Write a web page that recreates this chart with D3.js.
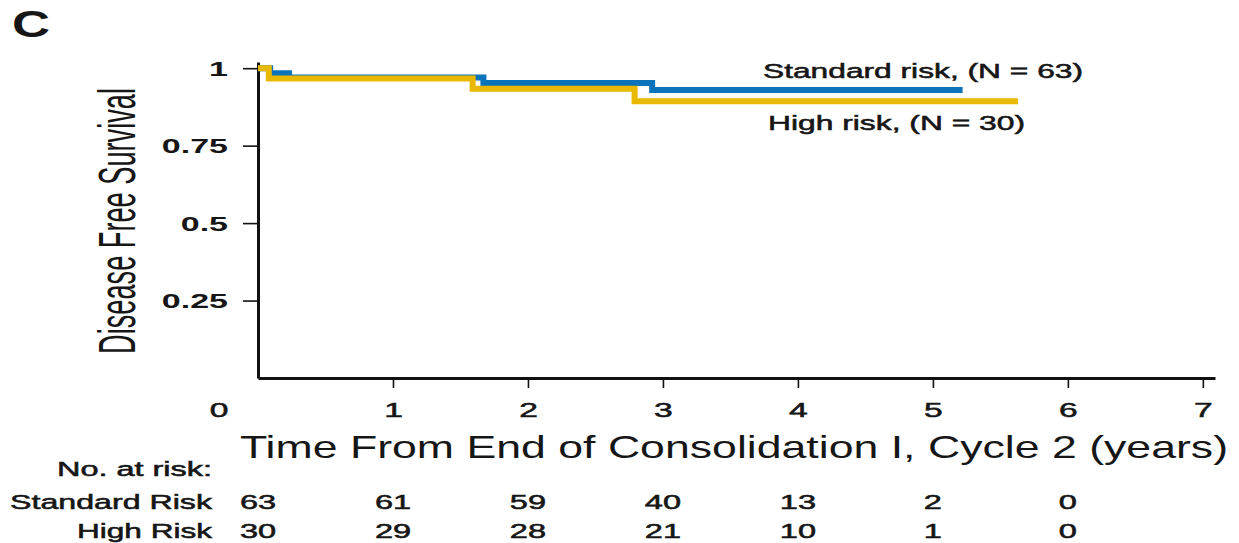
<!DOCTYPE html>
<html>
<head>
<meta charset="utf-8">
<script src="https://cdn.jsdelivr.net/npm/d3@7"></script>
<style>
  html, body { margin: 0; padding: 0; background: #fff; }
  svg { display: block; }
  text { font-family: "Liberation Sans", Arial, Helvetica, sans-serif; fill: #161616; }
  .medium { stroke: #161616; stroke-width: 0.55px; }
</style>
</head>
<body>
<svg id="chart" width="1239" height="543"></svg>
<script>
// Kaplan-Meier step data (time in years, survival probability)
const standardTimes = [0, 0.09, 0.23, 1.67, 2.92, 5.22];
const standardSurv  = [1, 0.984, 0.970, 0.952, 0.930, 0.930];
const highTimes     = [0, 0.08, 1.59, 2.79, 5.63];
const highSurv      = [1, 0.967, 0.934, 0.893, 0.893];

// Axis ticks
const xTicks = [1, 2, 3, 4, 5, 6, 7];
const yTicks = [0.25, 0.5, 0.75, 1];
const yTickLabels = ["0.25", "0.5", "0.75", "1"];

// Numbers at risk
const riskTimes      = [0, 1, 2, 3, 4, 5, 6];
const standardAtRisk = [63, 61, 59, 40, 13, 2, 0];
const highAtRisk     = [30, 29, 28, 21, 10, 1, 0];

const colors = { standard: "#0b73ba", high: "#e9b901" };

const svg = d3.select("#chart");

const x = d3.scaleLinear().domain([0, 7.09]).range([258, 1215]);
const y = d3.scaleLinear().domain([0, 1.02]).range([378, 62]);

// Panel letter
svg.append("text")
  .attr("x", 12).attr("y", 37)
  .attr("font-size", 36).attr("font-weight", "bold")
  .attr("textLength", 38).attr("lengthAdjust", "spacingAndGlyphs")
  .text("C");

// Y axis
const yAxis = svg.append("g")
  .attr("transform", `translate(${x(0)},0)`)
  .call(d3.axisLeft(y).tickValues(yTicks)
    .tickFormat((d, i) => yTickLabels[i])
    .tickSize(15).tickSizeOuter(0));
yAxis.select(".domain").attr("stroke", "#111").attr("stroke-width", 3);
yAxis.selectAll(".tick line").attr("stroke", "#111").attr("stroke-width", 1.6);
const ySx = 1.7;
yAxis.selectAll(".tick text")
  .attr("font-size", 20).attr("font-weight", "bold")
  .attr("font-family", "Liberation Sans, Arial, sans-serif")
  .attr("fill", "#161616")
  .attr("x", 0).attr("dy", 0).attr("y", 0)
  .attr("text-anchor", "end")
  .attr("transform", `translate(-30,7) scale(${ySx},1)`);

// X axis
const xAxis = svg.append("g")
  .attr("transform", `translate(0,${y(0)})`)
  .call(d3.axisBottom(x).tickValues(xTicks).tickFormat(d3.format("d"))
    .tickSize(10).tickSizeOuter(0));
xAxis.select(".domain").attr("stroke", "#111").attr("stroke-width", 3);
xAxis.selectAll(".tick line").attr("stroke", "#111").attr("stroke-width", 1.6);
const xSx = 1.6;
xAxis.selectAll(".tick text")
  .attr("class", "medium")
  .attr("font-size", 21)
  .attr("font-family", "Liberation Sans, Arial, sans-serif")
  .attr("fill", "#161616")
  .attr("y", 0).attr("dy", 0)
  .attr("transform", `translate(0,39) scale(${xSx},1)`);

// Shared origin label
svg.append("text")
  .attr("class", "medium")
  .attr("text-anchor", "middle")
  .attr("font-size", 21)
  .attr("transform", `translate(219,417) scale(${xSx},1)`)
  .text("0");

// Axis titles
svg.append("text")
  .attr("x", 240).attr("y", 458)
  .attr("font-size", 32)
  .attr("textLength", 988).attr("lengthAdjust", "spacingAndGlyphs")
  .text("Time From End of Consolidation I, Cycle 2 (years)");

// Condensed vertical title: squeeze the natural width to the axis span
const yTitle = svg.append("text")
  .attr("text-anchor", "middle")
  .attr("font-family", "Liberation Sans Narrow, DejaVu Sans Condensed, Liberation Sans, sans-serif")
  .attr("font-size", 51)
  .text("Disease Free Survival");
const yTitleWidth = yTitle.node().getComputedTextLength();
yTitle.attr("transform", `translate(135,221) rotate(-90) scale(${266 / yTitleWidth},1)`);

// Survival curves
const line = d3.line()
  .x(d => x(d[0]))
  .y(d => y(d[1]))
  .curve(d3.curveStepAfter);

const series = [
  { key: "standard", times: standardTimes, surv: standardSurv },
  { key: "high", times: highTimes, surv: highSurv }
];

svg.append("g").selectAll("path")
  .data(series)
  .join("path")
  .attr("d", s => line(s.times.map((t, i) => [t, s.surv[i]])))
  .attr("fill", "none")
  .attr("stroke", s => colors[s.key])
  .attr("stroke-width", 6)
  .attr("stroke-linejoin", "miter")
  .attr("stroke-linecap", "butt");

// Curve labels
svg.append("text")
  .attr("class", "medium")
  .attr("x", 763).attr("y", 78)
  .attr("font-size", 21)
  .attr("textLength", 320).attr("lengthAdjust", "spacingAndGlyphs")
  .text("Standard risk, (N = 63)");
svg.append("text")
  .attr("class", "medium")
  .attr("x", 768).attr("y", 130)
  .attr("font-size", 21)
  .attr("textLength", 257).attr("lengthAdjust", "spacingAndGlyphs")
  .text("High risk, (N = 30)");

// Numbers-at-risk table
svg.append("text")
  .attr("class", "medium")
  .attr("x", 212).attr("y", 476)
  .attr("text-anchor", "end")
  .attr("font-size", 20)
  .attr("textLength", 155).attr("lengthAdjust", "spacingAndGlyphs")
  .text("No. at risk:");

const rows = [
  { label: "Standard Risk", width: 202, base: 509, values: standardAtRisk },
  { label: "High Risk", width: 135, base: 538, values: highAtRisk }
];

const tSx = 1.55;
rows.forEach(r => {
  svg.append("text")
    .attr("class", "medium")
    .attr("x", 212).attr("y", r.base)
    .attr("text-anchor", "end")
    .attr("font-size", 21)
    .attr("textLength", r.width).attr("lengthAdjust", "spacingAndGlyphs")
    .text(r.label);
  svg.append("g").selectAll("text")
    .data(r.values)
    .join("text")
    .attr("class", "medium")
    .attr("text-anchor", "middle")
    .attr("font-size", 21)
    .attr("transform", (d, i) => `translate(${x(riskTimes[i])},${r.base}) scale(${tSx},1)`)
    .text(d => d);
});
</script>
</body>
</html>
